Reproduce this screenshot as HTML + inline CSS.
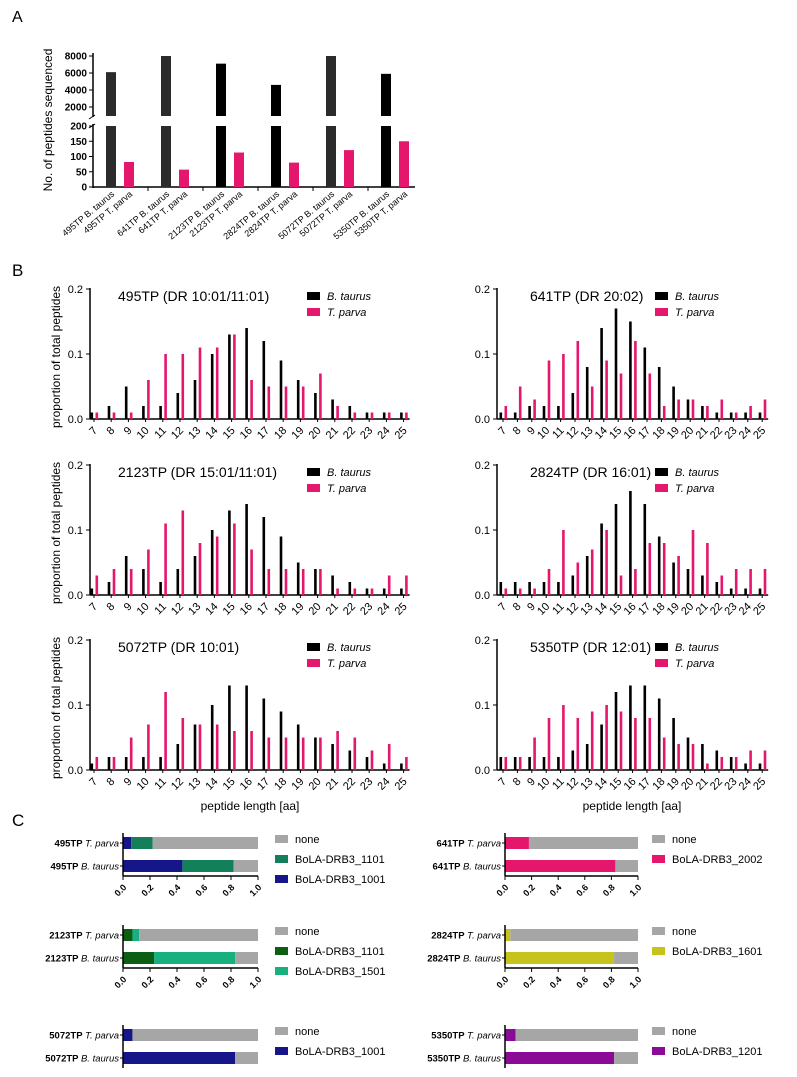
<!DOCTYPE html>
<html><head><meta charset="utf-8"><style>
body{margin:0;background:#fff}
svg text{font-family:"Liberation Sans",Arial,sans-serif}
</style></head><body>
<svg id="fig" width="797" height="1072" viewBox="0 0 797 1072" xmlns="http://www.w3.org/2000/svg">
<text x="12" y="22" font-family="Liberation Serif" font-size="16">A</text>
<text x="12" y="276" font-size="17">B</text>
<text x="12" y="826" font-size="17">C</text>
</svg>
<script>
// ---------- Panel A data ----------
const aCats = ["495TP","641TP","2123TP","2824TP","5072TP","5350TP"];
const aTaurus = [6100,8000,7100,4600,8000,5900];
const aParva = [82,57,113,80,121,150];
const aUpperTicks = [2000,4000,6000,8000];
const aLowerTicks = [0,50,100,150,200];

// ---------- Panel B data ----------
const bLengths = [7,8,9,10,11,12,13,14,15,16,17,18,19,20,21,22,23,24,25];
const bTicks = [0.0,0.1,0.2];
const bTitles = ["495TP (DR 10:01/11:01)","641TP (DR 20:02)","2123TP (DR 15:01/11:01)","2824TP (DR 16:01)","5072TP (DR 10:01)","5350TP (DR 12:01)"];
const bTaurus495 = [0.01,0.02,0.05,0.02,0.02,0.04,0.06,0.10,0.13,0.14,0.12,0.09,0.06,0.04,0.03,0.02,0.01,0.01,0.01];
const bParva495 = [0.01,0.01,0.01,0.06,0.10,0.10,0.11,0.11,0.13,0.06,0.05,0.05,0.05,0.07,0.02,0.01,0.01,0.01,0.01];
const bTaurus641 = [0.01,0.01,0.02,0.02,0.02,0.04,0.08,0.14,0.17,0.15,0.11,0.08,0.05,0.03,0.02,0.01,0.01,0.01,0.01];
const bParva641 = [0.02,0.05,0.03,0.09,0.10,0.12,0.05,0.09,0.07,0.12,0.07,0.02,0.03,0.03,0.02,0.03,0.01,0.02,0.03];
const bTaurus2123 = [0.01,0.02,0.06,0.04,0.02,0.04,0.06,0.10,0.13,0.14,0.12,0.09,0.05,0.04,0.03,0.02,0.01,0.01,0.01];
const bParva2123 = [0.03,0.04,0.04,0.07,0.11,0.13,0.08,0.09,0.11,0.07,0.04,0.04,0.04,0.04,0.01,0.01,0.01,0.03,0.03];
const bTaurus2824 = [0.02,0.02,0.02,0.02,0.02,0.03,0.06,0.11,0.14,0.16,0.14,0.09,0.05,0.04,0.03,0.02,0.01,0.01,0.01];
const bParva2824 = [0.01,0.01,0.01,0.04,0.10,0.05,0.07,0.10,0.03,0.04,0.08,0.08,0.06,0.10,0.08,0.03,0.04,0.04,0.04];
const bTaurus5072 = [0.01,0.02,0.02,0.02,0.02,0.04,0.07,0.10,0.13,0.13,0.11,0.09,0.07,0.05,0.04,0.03,0.02,0.01,0.01];
const bParva5072 = [0.02,0.02,0.05,0.07,0.12,0.08,0.07,0.07,0.06,0.06,0.05,0.05,0.05,0.05,0.06,0.05,0.03,0.04,0.02];
const bTaurus5350 = [0.02,0.02,0.02,0.02,0.02,0.03,0.04,0.07,0.12,0.13,0.13,0.11,0.08,0.05,0.04,0.03,0.02,0.01,0.01];
const bParva5350 = [0.02,0.02,0.05,0.08,0.10,0.08,0.09,0.10,0.09,0.08,0.08,0.05,0.04,0.04,0.01,0.02,0.02,0.03,0.03];

// ---------- Panel C data ----------
const cSamples = ["495TP","641TP","2123TP","2824TP","5072TP","5350TP"];
const cAlleles495 = ["BoLA-DRB3_1001","BoLA-DRB3_1101"];
const cParva495 = [0.06,0.16];
const cTaurus495 = [0.44,0.38];
const cAlleles641 = ["BoLA-DRB3_2002"];
const cParva641 = [0.18];
const cTaurus641 = [0.83];
const cAlleles2123 = ["BoLA-DRB3_1101","BoLA-DRB3_1501"];
const cParva2123 = [0.07,0.05];
const cTaurus2123 = [0.23,0.60];
const cAlleles2824 = ["BoLA-DRB3_1601"];
const cParva2824 = [0.04];
const cTaurus2824 = [0.82];
const cAlleles5072 = ["BoLA-DRB3_1001"];
const cParva5072 = [0.07];
const cTaurus5072 = [0.83];
const cAlleles5350 = ["BoLA-DRB3_1201"];
const cParva5350 = [0.08];
const cTaurus5350 = [0.82];
const cTicks = [0.0,0.2,0.4,0.6,0.8,1.0];

const NS="http://www.w3.org/2000/svg";
const svg=document.getElementById('fig');
const PINK="#e5176d";
function mk(tag,attrs,parent,text){const e=document.createElementNS(NS,tag);for(const k in attrs)e.setAttribute(k,attrs[k]);if(text!==undefined)e.textContent=text;(parent||svg).appendChild(e);return e;}

// ===== Panel A =====
(function(){
  const g=mk('g',{});
  
  
  const ax=93, xEnd=415;
  const yU=v=>107-(v-2000)*(51/6000);
  const uBottom=116;
  const yL=v=>187-v*(61/200);
  const xB=i=>111+i*55, xT=i=>129+i*55;
  mk('line',{x1:ax,y1:53,x2:ax,y2:117,stroke:'#000','stroke-width':1.5},g);
  mk('line',{x1:ax,y1:124,x2:ax,y2:188,stroke:'#000','stroke-width':1.5},g);
  mk('line',{x1:ax-4,y1:119,x2:ax+2,y2:115,stroke:'#000','stroke-width':1},g);
  mk('line',{x1:ax-4,y1:128,x2:ax+2,y2:124,stroke:'#000','stroke-width':1},g);
  mk('line',{x1:ax,y1:187,x2:xEnd,y2:187,stroke:'#000','stroke-width':1.5},g);
  aUpperTicks.forEach(v=>{const y=yU(v);mk('line',{x1:ax-4,y1:y,x2:ax,y2:y,stroke:'#000'},g);
    const t=mk('text',{x:ax-6,y:y+3.5,'font-size':10,'font-weight':'bold','text-anchor':'end'},g,String(v));
    });
  aLowerTicks.forEach(v=>{const y=yL(v);mk('line',{x1:ax-4,y1:y,x2:ax,y2:y,stroke:'#000'},g);
    const t=mk('text',{x:ax-6,y:y+3.5,'font-size':10,'font-weight':'bold','text-anchor':'end'},g,String(v));
    });
  const yl=mk('text',{x:0,y:0,'font-size':12,'text-anchor':'middle',transform:'translate(52,120) rotate(-90)'},g,'No. of peptides sequenced');
  
  aCats.forEach((c,i)=>{
    const col=(i===2||i===3||i===5)?'#000':'#2b2b2b';
    const v=aTaurus[i];
    const b1=mk('rect',{x:xB(i)-5,y:yU(v),width:10,height:uBottom-yU(v),fill:col},g);
    
    const b2=mk('rect',{x:xB(i)-5,y:yL(Math.min(v,200)),width:10,height:187-yL(Math.min(v,200)),fill:col},g);
    
    const p=aParva[i];
    const b3=mk('rect',{x:xT(i)-5,y:yL(p),width:10,height:187-yL(p),fill:PINK},g);
    
    if(i>0) mk('line',{x1:xB(i)-18,y1:187,x2:xB(i)-18,y2:191,stroke:'#000'},g);
    [[xB(i),c+' B. taurus'],[xT(i),c+' T. parva']].forEach(([x,s])=>{
      const t=mk('text',{x:0,y:0,'font-size':9,'text-anchor':'end',transform:`translate(${x+4},${195}) rotate(-40)`},g,s);
      });
  });
})();

// ===== Panel B =====
const bT=[bTaurus495,bTaurus641,bTaurus2123,bTaurus2824,bTaurus5072,bTaurus5350];
const bP=[bParva495,bParva641,bParva2123,bParva2824,bParva5072,bParva5350];
bTitles.forEach((title,k)=>{
  const col=k%2,row=Math.floor(k/2);
  const ax=col?497:90, x0=col?503:94, step=col?14.4:17.2;
  const y0=[419,595,770][row];
  const sy=v=>y0-v*650;
  const sx=i=>x0+i*step;
  const g=mk('g',{});
  
  
  const xEnd=sx(bLengths.length-1)+6;
  mk('line',{x1:ax,y1:sy(0.2)-1,x2:ax,y2:y0,stroke:'#000','stroke-width':1.5},g);
  mk('line',{x1:ax,y1:y0,x2:xEnd,y2:y0,stroke:'#000','stroke-width':1.5},g);
  bTicks.forEach(v=>{const y=sy(v);mk('line',{x1:ax-4,y1:y,x2:ax,y2:y,stroke:'#000'},g);
    const t=mk('text',{x:ax-7,y:y+4,'font-size':11,'text-anchor':'end'},g,v.toFixed(1));
    });
  bLengths.forEach((L,i)=>{
    const x=sx(i);
    mk('line',{x1:x,y1:y0,x2:x,y2:y0+3,stroke:'#000'},g);
    const t=mk('text',{x:0,y:0,'font-size':11,'text-anchor':'end',transform:`translate(${x+4},${y0+12}) rotate(-45)`},g,String(L));
    
    const v1=bT[k][i], v2=bP[k][i];
    const r1=mk('rect',{x:x-3.5,y:sy(v1),width:2.6,height:y0-sy(v1),fill:'#000'},g);
    
    const r2=mk('rect',{x:x+1.5,y:sy(v2),width:2.6,height:y0-sy(v2),fill:PINK},g);
    
  });
  const tt=mk('text',{x:col?530:118,y:sy(0.2)+12,'font-size':14},g,title);
  
  const lx=col?655:307;
  mk('rect',{x:lx,y:sy(0.2)+3,width:13,height:8,fill:'#000'},g);
  mk('rect',{x:lx,y:sy(0.2)+19,width:13,height:8,fill:PINK},g);
  const l1=mk('text',{x:lx+20,y:sy(0.2)+11,'font-size':11,'font-style':'italic'},g,'B. taurus');
  
  const l2=mk('text',{x:lx+20,y:sy(0.2)+27,'font-size':11,'font-style':'italic'},g,'T. parva');
  
  if(col===0){const yl=mk('text',{x:0,y:0,'font-size':12,'text-anchor':'middle',transform:`translate(60,${y0-62}) rotate(-90)`},g,'proportion of total peptides');
    }
  if(row===2){const xl=mk('text',{x:col?632:250,y:810,'font-size':12,'text-anchor':'middle'},g,'peptide length [aa]');
    }
});

// ===== Panel C =====
const cAll=[[cAlleles495,cParva495,cTaurus495,['#16168a','#13805a'],[1,0]],
  [cAlleles641,cParva641,cTaurus641,[PINK],[0]],
  [cAlleles2123,cParva2123,cTaurus2123,['#0b5e12','#18b07e'],[0,1]],
  [cAlleles2824,cParva2824,cTaurus2824,['#c6c41c'],[0]],
  [cAlleles5072,cParva5072,cTaurus5072,['#16168a'],[0]],
  [cAlleles5350,cParva5350,cTaurus5350,['#8a0c96'],[0]]];
cSamples.forEach((s,k)=>{
  const col=k%2,row=Math.floor(k/2);
  const ax=col?505:123, W=col?133:135;
  const yP=[843,935,1035][row], yB=yP+23;
  const sx=v=>ax+v*W;
  const [alleles,pv,tv,colors,order]=cAll[k];
  const g=mk('g',{});
  
  
  [[yP,pv,'T. parva'],[yB,tv,'B. taurus']].forEach(([y,vals,sp])=>{
    let acc=0;
    vals.forEach((v,j)=>{const r=mk('rect',{x:sx(acc),y:y-6,width:sx(acc+v)-sx(acc),height:12,fill:colors[j]},g);
      acc+=v;});
    const r=mk('rect',{x:sx(acc),y:y-6,width:sx(1)-sx(acc),height:12,fill:'#a6a6a6'},g);
    
    mk('line',{x1:ax-3,y1:y,x2:ax,y2:y,stroke:'#000'},g);
    const t=mk('text',{x:ax-4,y:y+3.5,'font-size':9.5,'text-anchor':'end'},g);
    mk('tspan',{'font-weight':'bold'},t,s+' ');
    mk('tspan',{'font-style':'italic'},t,sp);
    
  });
  mk('line',{x1:ax,y1:yP-10,x2:ax,y2:yB+10,stroke:'#000','stroke-width':1.5},g);
  if(row<2){
    mk('line',{x1:ax,y1:yB+10,x2:sx(1),y2:yB+10,stroke:'#000','stroke-width':1.5},g);
    cTicks.forEach(v=>{mk('line',{x1:sx(v),y1:yB+10,x2:sx(v),y2:yB+14,stroke:'#000'},g);
      const t=mk('text',{x:0,y:0,'font-size':9,'font-weight':'bold','text-anchor':'end',transform:`translate(${sx(v)+4},${yB+22}) rotate(-45)`},g,v.toFixed(1));
      });
  }
  const lx=col?652:275;
  const items=[['none','#a6a6a6']].concat(order.map(j=>[alleles[j],colors[j]]));
  items.forEach(([n,c],j)=>{const y=yP-4+j*20;
    mk('rect',{x:lx,y:y-4,width:13,height:8,fill:c},g);
    const t=mk('text',{x:lx+20,y:y+4,'font-size':11},g,n);
    });
});
</script>
</body></html>
